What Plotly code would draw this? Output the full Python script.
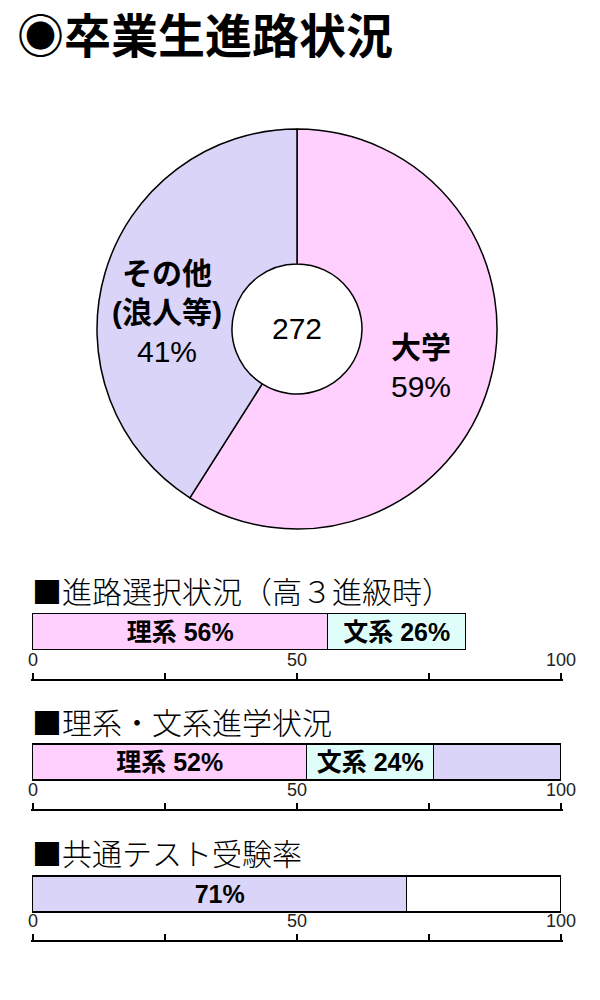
import plotly.graph_objects as go

# ---------------- data ----------------
title_text = "◉卒業生進路状況"
pie_labels = ["大学", "その他<br>(浪人等)"]
pie_values = [59, 41]
pie_total = 272

section_titles = ["■進路選択状況（高３進級時）", "■理系・文系進学状況", "■共通テスト受験率"]

choice_labels = ["理系", "文系"]
choice_values = [56, 26]

advance_labels = ["理系", "文系", ""]
advance_values = [52, 24, 24]

exam_labels = ["", ""]
exam_values = [71, 29]

tick_values = [0, 50, 100]
tick_minor = 25

# ---------------- style ----------------
PINK = "#FFCFFD"
LAV = "#D9D4F8"
CYAN = "#E0FEF9"
WHITE = "#FFFFFF"
FONT = "Liberation Sans, Noto Sans CJK JP, sans-serif"
# page body has an 8px margin; figure sized to fit the 600x1000 window exactly
OFF = 8
W, H = 584, 984


def px(x):
    return (x - OFF) / W


def py(y):
    return 1 - (y - OFF) / H


fig = go.Figure()

# ---------------- pie ----------------
fig.add_trace(go.Pie(
    labels=pie_labels,
    values=pie_values,
    hole=0.325,
    sort=False,
    direction="clockwise",
    rotation=0,
    marker=dict(colors=[PINK, LAV], line=dict(color="black", width=1.5)),
    textinfo="none",
    hoverinfo="skip",
    domain=dict(x=[px(97), px(497)], y=[py(529), py(129)]),
    showlegend=False,
))

annotations = []
annotations.append(dict(text="<b>%s</b>" % title_text, x=px(15), y=1, xref="paper", yref="paper",
                        xanchor="left", yanchor="top", showarrow=False,
                        font=dict(family=FONT, size=47, color="black")))
annotations.append(dict(text=str(pie_total), x=px(297), y=py(329), xref="paper", yref="paper",
                        xanchor="center", yanchor="middle",
                        showarrow=False, font=dict(family=FONT, size=30, color="black")))
pie_label_pos = [(421, 367), (167, 312)]
for lab, val, (lx, ly) in zip(pie_labels, pie_values, pie_label_pos):
    parts = lab.split("<br>")
    txt = "<br>".join("<b>%s</b>" % p for p in parts) + "<br>%d%%" % val
    annotations.append(dict(text=txt, x=px(lx), y=py(ly), xref="paper", yref="paper",
                            xanchor="center", yanchor="middle",
                            showarrow=False, align="center",
                            font=dict(family=FONT, size=30, color="black")))

# ---------------- bar sections ----------------
sections = [
    dict(labels=choice_labels, values=choice_values, colors=[PINK, CYAN],
         head=590, bar_c=632, axis_y=680),
    dict(labels=advance_labels, values=advance_values, colors=[PINK, CYAN, LAV],
         head=721, bar_c=762.5, axis_y=810),
    dict(labels=exam_labels, values=exam_values, colors=[LAV, WHITE],
         head=852, bar_c=894.5, axis_y=941),
]

X0, X1 = 33, 561
pad = 0.3
unit = (X1 - X0) / 100.0
BAR_H = 36
RANGE_Y = 0.6

for i, sec in enumerate(sections, start=1):
    xa = "x" if i == 1 else "x%d" % i
    ya = "y" if i == 1 else "y%d" % i
    for j, (lab, val, col) in enumerate(zip(sec["labels"], sec["values"], sec["colors"])):
        if lab:
            t = "%s %d%%" % (lab, val)
        elif i == 3 and j == 0:
            t = "%d%%" % val
        else:
            t = ""
        fig.add_trace(go.Bar(
            x=[val], y=[0], orientation="h", width=1,
            marker=dict(color=col, line=dict(color="black", width=1.5)),
            text=[t], textposition="inside", insidetextanchor="middle",
            textfont=dict(family=FONT, size=25, color="black", weight="bold"),
            hoverinfo="skip", showlegend=False,
            xaxis=xa, yaxis=ya,
        ))
    half = BAR_H * RANGE_Y
    xkey = "xaxis" if i == 1 else "xaxis%d" % i
    ykey = "yaxis" if i == 1 else "yaxis%d" % i
    fig.update_layout(**{
        xkey: dict(
            domain=[px(X0 - pad * unit), px(X1 + pad * unit)],
            range=[-pad, 100 + pad], automargin=False,
            anchor="free", position=py(sec["axis_y"]), side="top",
            showline=True, linecolor="black", linewidth=1.5,
            ticks="outside", ticklen=6, tickwidth=1.5, tickcolor="black",
            tickvals=tick_values, ticktext=[str(v) for v in tick_values],
            tickfont=dict(family=FONT, size=18, color="#222"),
            minor=dict(ticks="outside", dtick=tick_minor, tick0=0, ticklen=6,
                       tickwidth=1.5, tickcolor="black", showgrid=False),
            showgrid=False, zeroline=False, fixedrange=True,
        ),
        ykey: dict(
            domain=[py(sec["bar_c"] + half), py(sec["bar_c"] - half)],
            range=[-RANGE_Y, RANGE_Y], visible=False, anchor=xa, fixedrange=True,
            automargin=False,
        ),
    })
    annotations.append(dict(text=section_titles[i - 1], x=px(30), y=py(sec["head"]),
                            xref="paper", yref="paper", xanchor="left", yanchor="middle",
                            showarrow=False,
                            font=dict(family="Noto Sans CJK JP, sans-serif", size=30,
                                      color="black", weight=300)))

fig.update_layout(
    width=W, height=H,
    margin=dict(l=0, r=0, t=0, b=0, autoexpand=False),
    paper_bgcolor="white", plot_bgcolor="rgba(0,0,0,0)",
    barmode="stack", bargap=0,
    annotations=annotations,
    showlegend=False,
)

fig.write_html("out.html")
